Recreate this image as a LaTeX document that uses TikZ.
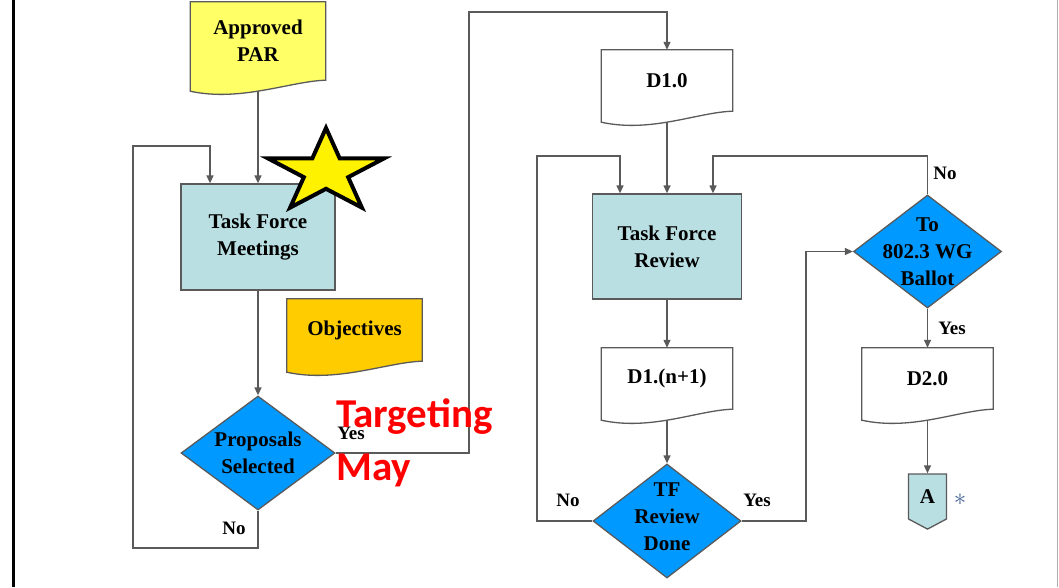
\documentclass[tikz,border=0pt]{standalone}
\usepackage{fontspec}
\setmainfont{Liberation Serif}
\newfontfamily\calib{Carlito}
\usetikzlibrary{shapes.geometric, shapes.symbols, arrows.meta, backgrounds}

\definecolor{lineGray}{HTML}{5A5A5A}
\definecolor{parYellow}{HTML}{FFFF66}
\definecolor{objGold}{HTML}{FFCC00}
\definecolor{boxCyan}{HTML}{B9DFE3}
\definecolor{decBlue}{HTML}{0099FF}
\definecolor{astBlue}{HTML}{46649A}

% document outline behind node #1, filled with #2
\newcommand{\docshape}[2]{%
	\begin{pgfonlayer}{background}
		\draw[flowline, fill=#2] (#1.north west) -- (#1.north east) -- (#1.south east)
			.. controls ([xshift=-35pt,yshift=-1pt]#1.south east) and ([xshift=50pt,yshift=-22pt]#1.south west) .. ([yshift=-11pt]#1.south west) -- cycle;
	\end{pgfonlayer}}

\begin{document}
\begin{tikzpicture}[x=1pt, y=-1pt,
		flowline/.style={draw=lineGray, line width=1.3pt},
		arrowline/.style={flowline, -{Triangle[length=8pt, width=7pt]}},
		lbl/.style={font=\fontsize{21}{27}\selectfont\bfseries, align=center},
		docnode/.style={rectangle, inner sep=0pt, lbl},
		procbox/.style={rectangle, inner sep=0pt, flowline, fill=boxCyan, lbl},
		decision/.style={diamond, inner sep=0pt, flowline, fill=decBlue},
		offpage/.style={signal, signal to=south, signal from=nowhere, signal pointer angle=124, inner sep=0pt, flowline, fill=boxCyan, lbl, minimum width=38pt, minimum height=49pt},
		yn/.style={font=\fontsize{19}{19}\selectfont\bfseries, inner sep=0pt}]
	
	\useasboundingbox (0,0) rectangle (1059,587);
	\draw[line width=3pt] (13,0) -- (13,587); % frame
	\draw[line width=1.5pt, lineGray!50] (1057.5,0) -- (1057.5,587);
	
	% left column
	\node[docnode, minimum width=135pt, minimum height=78pt] (par) at (258,41) {Approved\\PAR};
	\docshape{par}{parYellow}
	\node[procbox, minimum width=154pt, minimum height=106pt] (tfm) at (258,237) {Task Force\\Meetings};
	\node[docnode, minimum width=135pt, minimum height=62pt] (obj) at (354.5,330) {Objectives};
	\docshape{obj}{objGold}
	\node[decision, minimum width=154pt, minimum height=114pt, label={[lbl]center:{Proposals\\Selected}}] (prop) at (258,453) {};
	
	% middle column
	\node[docnode, minimum width=131pt, minimum height=61pt] (d10) at (667,80.5) {D1.0};
	\docshape{d10}{white}
	\node[procbox, minimum width=149pt, minimum height=105pt] (tfr) at (667,246.5) {Task Force\\Review};
	\node[docnode, minimum width=131pt, minimum height=61pt] (dn1) at (667,378.5) {D1.(n+1)};
	\docshape{dn1}{white}
	\node[decision, minimum width=148pt, minimum height=114pt, label={[lbl, yshift=4pt]center:{TF\\Review\\Done}}] (tfd) at (667,521) {};
	
	% right column
	\node[decision, minimum width=148pt, minimum height=113pt, label={[lbl]center:{To\\802.3 WG\\Ballot}}] (wg) at (927.5,251.5) {};
	\node[docnode, minimum width=131pt, minimum height=61pt] (d20) at (927.5,378.5) {D2.0};
	\docshape{d20}{white}
	\node[offpage] (conA) at (927.5,496.5) {A};
	\node[text=astBlue, font=\fontsize{25}{25}\selectfont, inner sep=0pt] (ast) at (960,500) {$\ast$};
	
	\coordinate (loopL) at (133,548);
	\coordinate (loopLT) at (133,146);
	\coordinate (yesTop) at (469,12);
	\coordinate (revL) at (537,156);
	\coordinate (revR) at (806,400);
	\coordinate (wgUp) at (927.5,156);
	
	\draw[arrowline] ([yshift=-11pt]par.south) -- (tfm.north);
	\draw[arrowline] (tfm) -- (prop);
	\draw[arrowline] (prop.south) |- (loopL) -- (loopLT) -| ([xshift=-48pt]tfm.north); % no
	\draw[arrowline] (prop.east) -| (yesTop) -| (d10.north); % yes
	\draw[arrowline] ([yshift=-11pt]d10.south) -- (tfr.north);
	\draw[arrowline] (tfr) -- (dn1.north);
	\draw[arrowline] ([yshift=-11pt]dn1.south) -- (tfd.north);
	\draw[arrowline] (tfd.west) -| (revL) -| ([xshift=-47pt]tfr.north); % no
	\draw[arrowline] (tfd.east) -| (revR) |- (wg.west); % yes
	\draw[arrowline] (wg.north) -- (wgUp) -| ([xshift=46pt]tfr.north); % no
	\draw[arrowline] (wg.south) -- (d20.north);
	\draw[arrowline] ([yshift=-11pt]d20.south) -- (conA.north);
	
	\node[yn] (noP) at (234,528) {No};
	\node[yn] (yesP) at (351,433) {Yes};
	\node[yn] (noT) at (568,500) {No};
	\node[yn] (yesT) at (757,500) {Yes};
	\node[yn] (noW) at (945,173) {No};
	\node[yn] (yesW) at (952,328) {Yes};
	
	% star over the meetings box
	\draw[line width=4pt, fill=yellow, line join=miter] plot[samples at={0,...,9}] ({326+61*(1-0.618*mod(\x,2))*cos(90+36*\x)}, {172-44*(1-0.618*mod(\x,2))*sin(90+36*\x)}) -- cycle;
	
	\node[text=red, font=\calib\bfseries\fontsize{41}{53}\selectfont, align=left, anchor=base west, inner sep=0pt] (tgt) at (336,480) {Targeting\\May};
	
\end{tikzpicture}
\end{document}
